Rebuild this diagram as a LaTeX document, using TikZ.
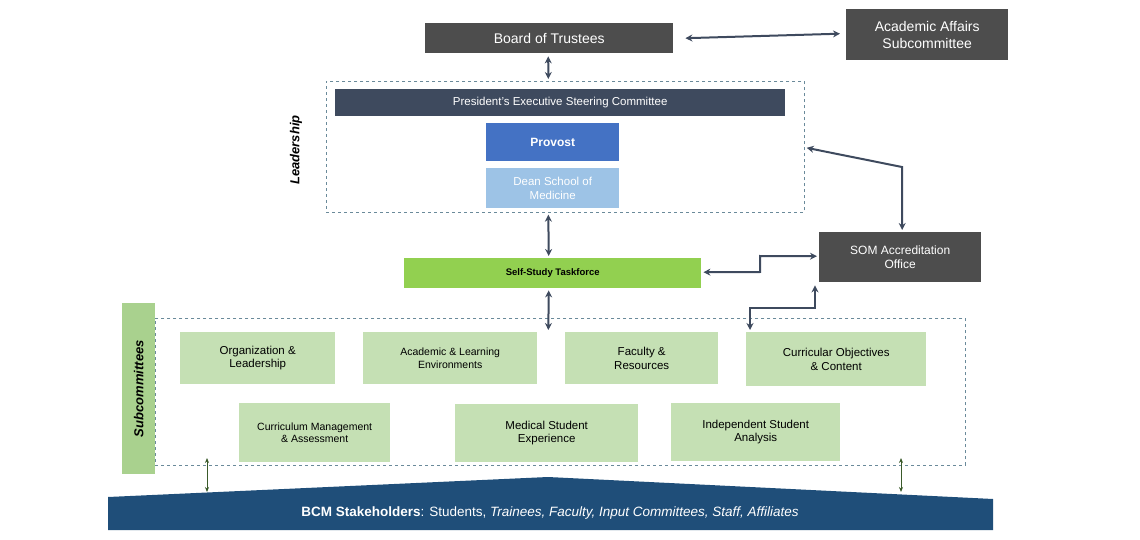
\documentclass[tikz,border=0pt]{standalone}
\usepackage{fontspec}
\setmainfont{Liberation Sans}
\usetikzlibrary{arrows.meta,calc}
\definecolor{dk}{HTML}{4D4D4D}
\definecolor{navy}{HTML}{3E4A5E}
\definecolor{prov}{HTML}{4472C4}
\definecolor{dean}{HTML}{9DC3E6}
\definecolor{lime}{HTML}{92D050}
\definecolor{sub}{HTML}{C5E0B4}
\definecolor{subl}{HTML}{A9D18E}
\definecolor{stake}{HTML}{1F4E79}
\definecolor{dash}{HTML}{6A8A9A}
\definecolor{arr}{HTML}{3E4A5E}
\definecolor{garr}{HTML}{3A5A2A}
\tikzset{
 box/.style={anchor=north west,inner sep=0pt,align=center},
 dkbox/.style={box,fill=dk,text=white,font=\fontsize{13}{15}\selectfont},
 subbox/.style={box,fill=sub,text=black,font=\fontsize{11.5}{13.5}\selectfont},
 dbl/.style={draw=arr,line width=2pt,{Stealth[length=7pt,width=7pt]}-{Stealth[length=7pt,width=7pt]}},
 gdbl/.style={draw=garr,line width=0.8pt,{Stealth[length=5pt,width=4pt]}-{Stealth[length=5pt,width=4pt]}},
 dbox/.style={draw=dash,dashed,line width=0.7pt}
}
\begin{document}
\begin{tikzpicture}[x=1pt,y=-1pt]
\useasboundingbox (0,0) rectangle (1140,540);
\node[dkbox,minimum width=248pt,minimum height=30pt,font=\fontsize{14}{16}\selectfont] (bot) at (425,23) {Board of Trustees};
\node[dkbox,minimum width=162pt,minimum height=51pt,font=\fontsize{14}{17}\selectfont] (aas) at (846,9) {Academic Affairs\\Subcommittee};
\draw[dbl] ($(bot.east)+(12,0)$) -- ($(aas.west)+(-6,-1)$);
\node[box,dbox,minimum width=478pt,minimum height=131pt] (lead) at (326,81) {};
\node[box,fill=navy,text=white,minimum width=450pt,minimum height=27pt,font=\fontsize{11.5}{13}\selectfont] (pres) at (335,89) {President’s Executive Steering Committee};
\node[box,fill=prov,text=white,minimum width=133pt,minimum height=38pt,font=\bfseries\fontsize{12}{14}\selectfont] (prov) at (486,123) {Provost};
\node[box,fill=dean,text=white,minimum width=133pt,minimum height=40pt,font=\fontsize{11.5}{13.5}\selectfont] (dean) at (486,168) {Dean School of\\Medicine};
\node[rotate=90,font=\bfseries\itshape\fontsize{13}{15}\selectfont] (ll) at (296,150) {Leadership};
\node[box,fill=lime,minimum width=297pt,minimum height=30pt,font=\bfseries\fontsize{9.5}{11}\selectfont] (sst) at (404,258) {Self-Study Taskforce};
\node[dkbox,minimum width=162pt,minimum height=50pt,font=\fontsize{12}{14.5}\selectfont] (som) at (819,232) {SOM Accreditation\\Office};
\node[box,dbox,minimum width=810pt,minimum height=147pt] (subc) at (155,318) {};
\node[box,fill=subl,minimum width=33pt,minimum height=171pt] (sl) at (122,303) {};
\node[rotate=90,font=\bfseries\itshape\fontsize{13}{15}\selectfont] at (sl.center) {Subcommittees};
\node[subbox,minimum width=155pt,minimum height=52pt] (s1) at (180,332) {Organization \&\\Leadership};
\node[subbox,minimum width=174pt,minimum height=52pt,font=\fontsize{10.5}{12.5}\selectfont] (s2) at (363,332) {Academic \& Learning\\Environments};
\node[subbox,minimum width=153pt,minimum height=52pt] (s3) at (565,332) {Faculty \&\\Resources};
\node[subbox,minimum width=180pt,minimum height=54pt] (s4) at (746,332) {Curricular Objectives\\\& Content};
\node[subbox,minimum width=151pt,minimum height=59pt,font=\fontsize{10.5}{12.5}\selectfont] (s5) at (239,403) {Curriculum Management\\\& Assessment};
\node[subbox,minimum width=183pt,minimum height=58pt] (s6) at (455,404) {Medical Student\\Experience};
\node[subbox,minimum width=169pt,minimum height=58pt] (s7) at (671,403) {Independent Student\\Analysis};
\fill[stake] (108,497) -- (548,477) -- (993,499) -- (993,530) -- (108,530) -- cycle;
\node[text=white,font=\fontsize{13.5}{16}\selectfont] (stk) at (550,513) {\textbf{BCM Stakeholders}: Students, \textit{Trainees, Faculty, Input Committees, Staff, Affiliates}};
\coordinate (g1a) at (207,458); \coordinate (g1b) at (207,492);
\coordinate (g2a) at (901,458); \coordinate (g2b) at (901,492);
\draw[gdbl] (g1a) -- (g1b);
\draw[gdbl] (g2a) -- (g2b);
\draw[dbl] ($(bot.south)+(-1,3)$) -- ($(lead.north)+(-17,-2)$);
\draw[dbl] ($(lead.south)+(-17,2)$) -- ($(sst.north)+(-4,-2)$);
\draw[dbl] ($(sst.south)+(-4,2)$) -- ($(subc.north)+(-12,12)$);
\draw[dbl] ($(sst.east)+(2,-1)$) -- (760,272) -- (760,256) -- ($(som.west)+(-2,-1)$);
\draw[dbl] ($(lead.east)+(2,1)$) -- (902,167) -- ($(som.north)+(2,-2)$);
\draw[dbl] ($(som.south west)+(-4,3)$) -- (815,308) -- (750,308) -- (750,330);
\end{tikzpicture}
\end{document}
